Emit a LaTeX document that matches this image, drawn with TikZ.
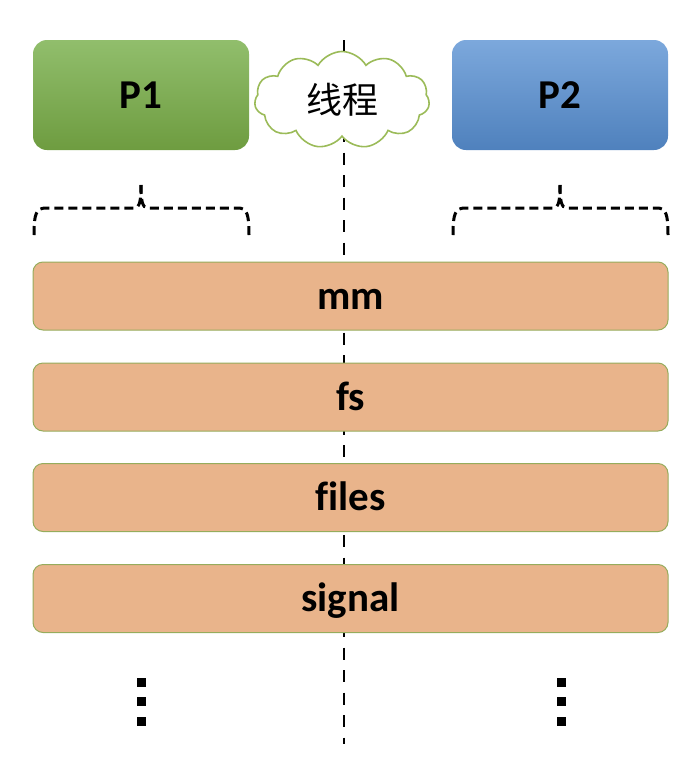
\documentclass[tikz,border=0pt]{standalone}
\usepackage{fontspec}
\setmainfont{Carlito}[Ligatures=NoCommon]
\newfontfamily\cjk{Noto Sans CJK SC}
\usetikzlibrary{shapes.symbols}
\definecolor{greentop}{RGB}{145,190,108}
\definecolor{greenbottom}{RGB}{110,156,64}
\definecolor{bluetop}{RGB}{124,168,220}
\definecolor{bluebottom}{RGB}{79,129,189}
\definecolor{cloudgreen}{RGB}{155,187,89}
\definecolor{resfill}{RGB}{233,180,139}
\definecolor{resborder}{RGB}{150,172,92}
\tikzset{
	procstyle/.style={rectangle,rounded corners=14pt,minimum width=216pt,minimum height=110pt,inner sep=0pt,text height=30pt,text depth=4pt,font=\fontsize{41}{42}\selectfont\bfseries},
	greenstyle/.style={procstyle,top color=greentop,bottom color=greenbottom},
	bluestyle/.style={procstyle,top color=bluetop,bottom color=bluebottom},
	cloudstyle/.style={cloud,cloud puffs=11,cloud puff arc=120,aspect=1.9,draw=cloudgreen,line width=1.6pt,fill=white,minimum width=175pt,minimum height=97pt,inner sep=0pt,font=\cjk\fontsize{36}{38}\selectfont},
	resstyle/.style={rectangle,rounded corners=10pt,draw=resborder,line width=1pt,fill=resfill,minimum width=635pt,minimum height=68pt,inner sep=0pt,text height=30pt,text depth=4pt,font=\fontsize{41}{42}\selectfont\bfseries},
	bracestyle/.style={draw=black,line width=3pt,dash pattern=on 9pt off 5pt},
	midstyle/.style={draw=black,line width=2.7pt,dash pattern=on 12pt off 10.5pt},
	dotstyle/.style={rectangle,fill=black,minimum size=9pt,inner sep=0pt}
}
\begin{document}
\begin{tikzpicture}[x=1pt,y=-1pt]
		\useasboundingbox (0,0) rectangle (698,766);
		% middle split
		\coordinate (top) at (344,40);
		\coordinate (bottom) at (344,744);
		\draw[midstyle] (top)--(bottom);
		\node[greenstyle] (p1) at (141,95) {P1};
		\node[bluestyle] (p2) at (560,95) {P2};
		\node[cloudstyle] (thread) at (342,100) {线程};
		% braces
		\draw[bracestyle] (34,235) .. controls (34,214) and (36,208) .. (46,208) -- (134,208) .. controls (140,208) and (141,200) .. (141,185);
		\draw[bracestyle] (141,185) .. controls (141,200) and (142,208) .. (148,208) -- (238,208) .. controls (247,208) and (249,214) .. (249,235);
		\draw[bracestyle] (453,235) .. controls (453,214) and (455,208) .. (465,208) -- (553,208) .. controls (559,208) and (560,200) .. (560,185);
		\draw[bracestyle] (560,185) .. controls (560,200) and (561,208) .. (567,208) -- (657,208) .. controls (666,208) and (668,214) .. (668,235);
		% shared resources
		\node[resstyle] (mm) at (350.5,296) {mm};
		\node[resstyle] (fs) at (350.5,397) {fs};
		\node[resstyle] (files) at (350.5,497.5) {files};
		\node[resstyle] (signal) at (350.5,598.5) {signal};
		% dots
		\foreach \y in {682,701,721} {
			\node[dotstyle] at (141.5,\y) {};
			\node[dotstyle] at (561,\y) {};
		}
		\end{tikzpicture}
\end{document}
